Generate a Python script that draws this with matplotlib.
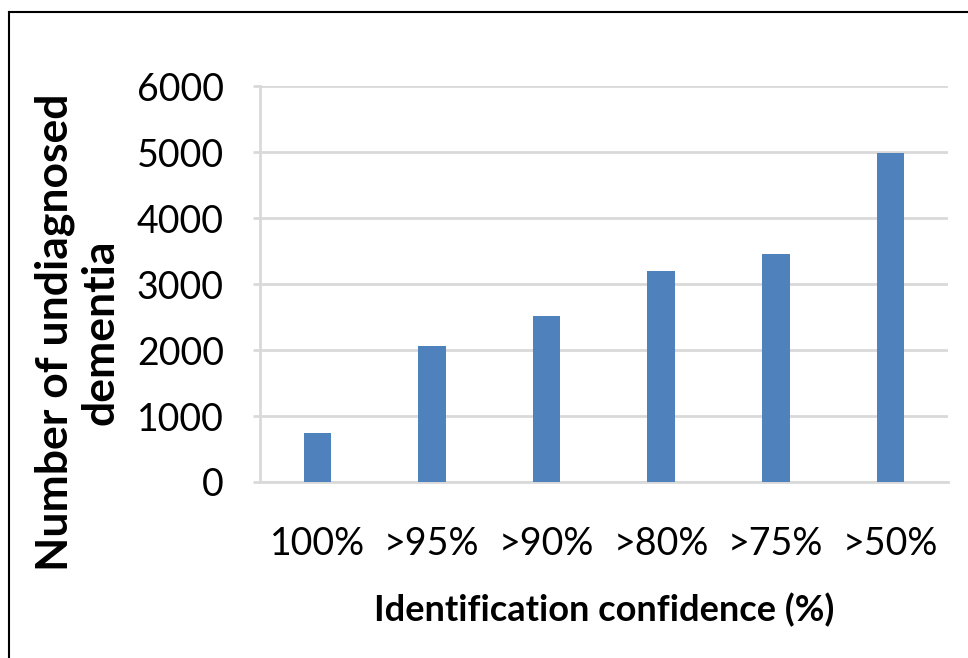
import matplotlib.pyplot as plt
from matplotlib.lines import Line2D

categories = ["100%", ">95%", ">90%", ">80%", ">75%", ">50%"]
counts = [740, 2060, 2510, 3200, 3450, 4990]

plt.rcParams['font.family'] = ['Lato', 'DejaVu Sans']

fig = plt.figure(figsize=(9.68, 6.58), dpi=100)
ax = fig.add_axes([0.2686, 0.2675, 0.7104, 0.6015])

x = range(len(categories))
ax.bar(x, counts, width=0.24, color="#4F81BD", zorder=3)

ax.set_xlim(-0.5, len(categories) - 0.5)
ax.set_ylim(0, 6000)
ax.set_yticks(range(0, 6001, 1000))
ax.set_xticks(list(x))
ax.set_xticklabels(categories)

ax.grid(axis="y", color="#d9d9d9", linewidth=2, zorder=0)
for s in ["top", "right"]:
    ax.spines[s].set_visible(False)
ax.spines["left"].set_color("#d9d9d9")
ax.spines["left"].set_linewidth(2)
ax.spines["bottom"].set_color("#d9d9d9")
ax.spines["bottom"].set_linewidth(2)
ax.tick_params(axis="y", length=5, width=2, color="#d9d9d9", labelsize=27, pad=21)
ax.tick_params(axis="x", length=0, labelsize=27, pad=32)

ax.set_ylabel("Number of undiagnosed\ndementia", fontsize=32, fontweight="bold", linespacing=1.15)
ax.yaxis.set_label_coords(-0.203, 0.379)
ax.set_xlabel("Identification confidence (%)", fontsize=26, fontweight="bold", labelpad=22)

# frame lines of the cropped figure (top and left)
fig.add_artist(Line2D([9 / 968, 1], [1 - 12 / 658, 1 - 12 / 658], color="black", linewidth=1.5))
fig.add_artist(Line2D([9 / 968, 9 / 968], [0, 1 - 12 / 658], color="black", linewidth=1.5))

fig.savefig("out.png", dpi=100, facecolor="white")
